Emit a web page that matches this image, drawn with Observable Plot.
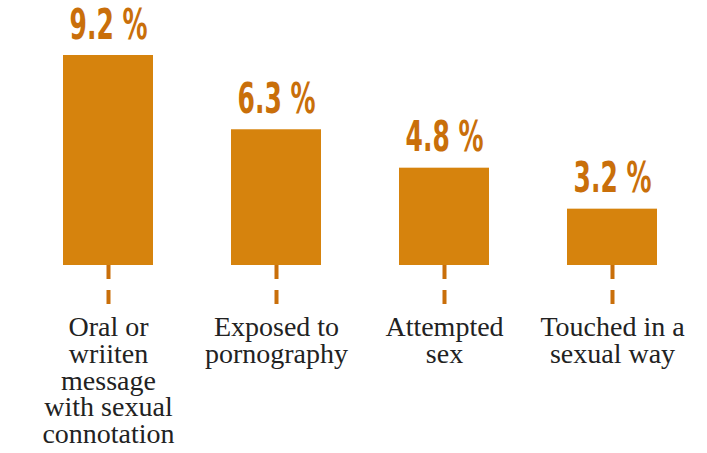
<!DOCTYPE html>
<html><head><meta charset="utf-8">
<script src="https://cdn.jsdelivr.net/npm/d3@7"></script>
<script src="https://cdn.jsdelivr.net/npm/@observablehq/plot@0.6"></script>
<style>body{margin:0;background:#fff}</style>
</head><body><div id="chart"></div>
<script>
const categories = ["Oral or\nwriiten\nmessage\nwith sexual\nconnotation", "Exposed to\npornography", "Attempted\nsex", "Touched in a\nsexual way"];
const values = [9.2, 6.3, 4.8, 3.2];
const valueLabels = ["9.2 %", "6.3 %", "4.8 %", "3.2 %"];
const yBase = 1.0;

const data = categories.map((c, i) => ({cat: c, v: values[i], lab: valueLabels[i]}));
const barColor = "#D6830D", labColor = "#C96F0A";

const plot = Plot.plot({
  width: 707, height: 453,
  marginLeft: 24, marginRight: 11, marginTop: 55, marginBottom: 188,
  x: {type: "band", domain: categories, paddingInner: 0.464, paddingOuter: 0.232, axis: null},
  y: {domain: [yBase, 9.2], axis: null},
  marks: [
    Plot.barY(data, {x: "cat", y1: yBase, y2: "v", fill: barColor}),
    Plot.ruleX(data, {x: "cat", y1: yBase, y2: yBase, stroke: labColor, strokeWidth: 4, strokeDasharray: "14,11", render: (i, s, v, d, c, next) => {
      const g = next(i, s, v, d, c);
      d3.select(g).selectAll("line").attr("y1", s.y(yBase)).attr("y2", s.y(yBase) + 40);
      return g;
    }}),
    Plot.text(data, {x: "cat", y: "v", text: "lab", lineAnchor: "bottom", dy: -17, fill: labColor, fontFamily: "DejaVu Sans Condensed, DejaVu Sans", fontWeight: "bold", fontSize: 43, className: "vlab"}),
    Plot.text(data, {x: "cat", y: yBase, text: "cat", lineAnchor: "top", dy: 52, lineHeight: 0.95, fill: "#222", fontFamily: "Liberation Serif", fontSize: 28})
  ]
});
d3.select(plot).selectAll(".vlab text").attr("textLength", 78).attr("lengthAdjust", "spacingAndGlyphs");
document.getElementById("chart").appendChild(plot);
</script></body></html>
